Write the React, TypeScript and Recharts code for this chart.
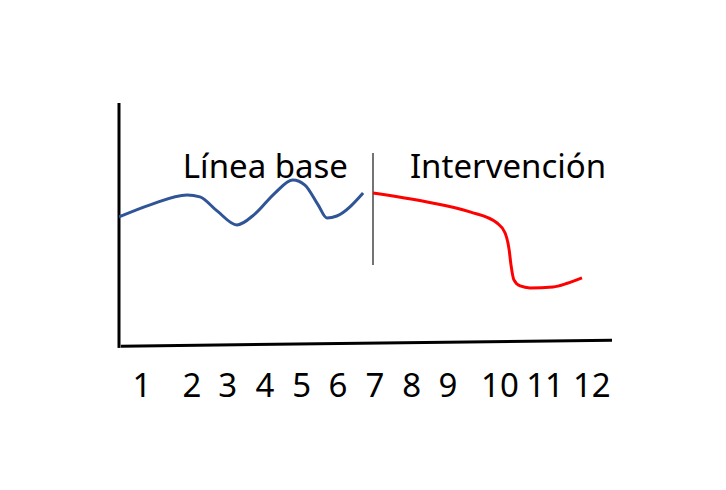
import React from 'react';
import { LineChart, Line, XAxis, YAxis, ReferenceLine, ReferenceDot } from 'recharts';

// Horizontal unit: arbitrary session scale; vertical unit: arbitrary response level (0-10)
const baselineX = [0, 0.85, 1.86, 2.21, 2.68, 3.22, 3.71, 4.26, 4.75, 5.08, 5.44, 5.68, 5.95, 6.67];
const baselineY = [5.29, 5.79, 6.2, 6.12, 5.54, 4.96, 5.41, 6.28, 6.82, 6.61, 5.79, 5.25, 5.33, 6.28];

const interventionX = [6.94, 8.42, 9.59, 10.33, 10.55, 10.66, 10.71, 10.79, 10.96, 11.23, 11.86, 12.25, 12.65];
const interventionY = [6.28, 5.91, 5.5, 5.04, 4.63, 3.93, 3.31, 2.69, 2.44, 2.36, 2.4, 2.55, 2.77];

const tickPositions = [0.63, 1.99, 2.97, 3.99, 4.99, 5.98, 6.99, 8.0, 8.99, 10.41, 11.64, 12.92];
const tickLabels = ['1', '2', '3', '4', '5', '6', '7', '8', '9', '10', '11', '12'];

const phaseLabels = ['Línea base', 'Intervención'];
const phaseLabelX = [4.0, 10.63];
const phaseLabelY = 7.4;

const dividerX = 6.94;
const dividerY = [3.31, 7.93];
const xMax = 13.47;

const baselineData = baselineX.map((x, i) => ({ x, v: baselineY[i] }));
const interventionData = interventionX.map((x, i) => ({ x, v: interventionY[i] }));

const FONT = '"Noto Sans", sans-serif';

const Tick = (props: any) => {
  const { x, y, payload } = props;
  const idx = tickPositions.indexOf(payload.value);
  return (
    <text x={x} y={y + 52} textAnchor="middle" fontFamily={FONT} fontSize={33} fill="#000">
      {tickLabels[idx]}
    </text>
  );
};

export default function App() {
  return (
    <div style={{ position: 'absolute', left: 0, top: 0, width: 726, height: 490, background: '#fff' }}>
      <LineChart
        width={726}
        height={490}
        margin={{ top: 103, right: 114, bottom: 85, left: 119 }}
      >
        <XAxis
          type="number"
          dataKey="x"
          domain={[0, xMax]}
          ticks={tickPositions}
          interval={0}
          axisLine={false}
          tickLine={false}
          tickSize={0}
          tickMargin={0}
          height={60}
          tick={<Tick />}
          allowDataOverflow
        />
        <YAxis type="number" domain={[0, 10]} hide allowDataOverflow />
        <ReferenceLine
          segment={[{ x: 0, y: -0.12 }, { x: 0, y: 10 }]}
          stroke="#000"
          strokeWidth={3}
          ifOverflow="visible"
        />
        <ReferenceLine
          segment={[{ x: 0.05, y: -0.05 }, { x: xMax, y: 0.2 }]}
          stroke="#000"
          strokeWidth={3}
          ifOverflow="visible"
        />
        <ReferenceLine
          segment={[{ x: dividerX, y: dividerY[0] }, { x: dividerX, y: dividerY[1] }]}
          stroke="#444"
          strokeWidth={1.5}
          ifOverflow="visible"
        />
        <Line
          data={baselineData}
          dataKey="v"
          type="monotone"
          stroke="#2F5597"
          strokeWidth={3}
          dot={false}
          isAnimationActive={false}
        />
        <Line
          data={interventionData}
          dataKey="v"
          type="monotone"
          stroke="#FF0000"
          strokeWidth={3}
          dot={false}
          isAnimationActive={false}
        />
        {phaseLabels.map((label, i) => (
          <ReferenceDot
            key={label}
            x={phaseLabelX[i]}
            y={phaseLabelY}
            r={0}
            stroke="none"
            fill="none"
            ifOverflow="visible"
            label={{ value: label, position: 'center', fontSize: 33, fontFamily: FONT, fill: '#000' }}
          />
        ))}
      </LineChart>
    </div>
  );
}
